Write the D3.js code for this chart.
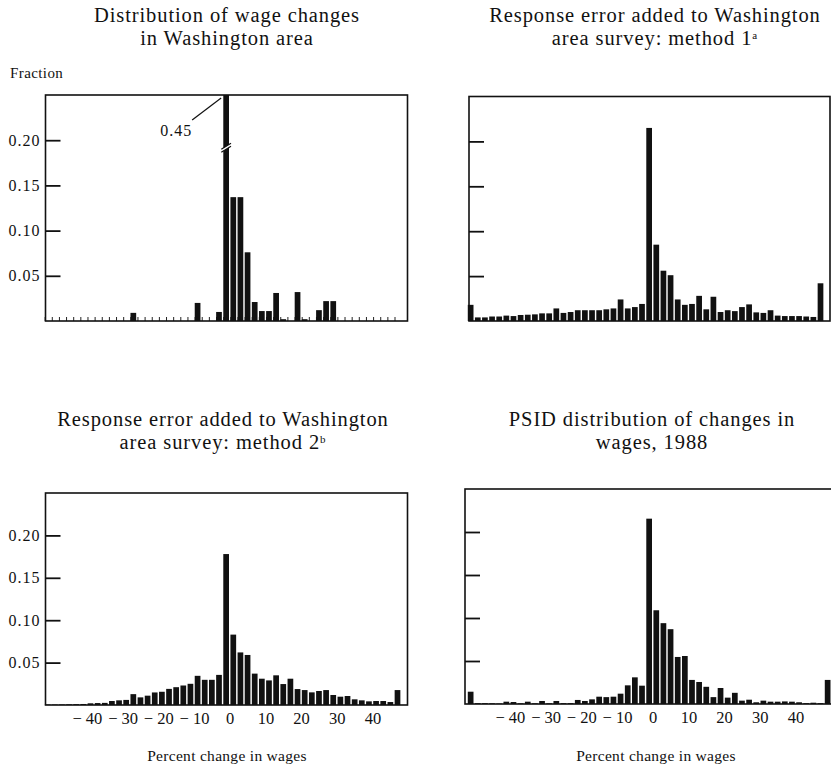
<!DOCTYPE html>
<html>
<head>
<meta charset="utf-8">
<script src="https://cdn.jsdelivr.net/npm/d3@7"></script>
<style>
  html, body { margin: 0; padding: 0; background: #fff; }
  svg { display: block; }
  text { font-family: "Liberation Serif", "DejaVu Serif", serif; fill: #111; }
</style>
</head>
<body>
<svg id="chart" width="831" height="769"></svg>
<script>
// ---- data ----
// bin centres (percent change in wages, 2-point bins)
const binCenters = [-51,-49,-47,-45,-43,-41,-39,-37,-35,-33,-31,-29,-27,-25,-23,-21,-19,-17,-15,-13,
  -11,-9,-7,-5,-3,-1,1,3,5,7,9,11,13,15,17,19,21,23,25,27,29,31,33,35,37,39,41,43,45,47,49];

const washington = [0,0,0,0,0,0,0,0,0,0,0,0,0.009,0,0,0,0,0,0,0,
  0,0.020,0,0,0.010,0.45,0.137,0.137,0.076,0.021,0.011,0.011,0.031,0.002,0,0.032,0.002,0,0.012,0.022,
  0.022,0,0,0,0,0,0,0,0,0];

const method1 = [0.018,0.004,0.004,0.005,0.005,0.006,0.0055,0.0067,0.007,0.0074,
  0.0085,0.0085,0.014,0.009,0.010,0.012,0.012,0.012,0.012,0.013,
  0.014,0.024,0.014,0.0155,0.019,0.215,0.085,0.056,0.051,0.024,
  0.018,0.019,0.028,0.013,0.027,0.010,0.012,0.011,0.0155,0.0185,
  0.0096,0.009,0.012,0.006,0.0055,0.0055,0.0055,0.005,0.0045,0.042];

const method2 = [0.0005,0.0005,0.0006,0.0008,0.001,0.0012,0.002,0.0023,0.0025,0.0047,
  0.0055,0.006,0.0128,0.009,0.011,0.0148,0.0156,0.019,0.021,0.023,
  0.025,0.0344,0.0297,0.0297,0.0355,0.178,0.083,0.062,0.059,0.037,
  0.031,0.029,0.035,0.0247,0.031,0.0188,0.0176,0.0149,0.0165,0.0176,
  0.0118,0.0098,0.0106,0.0067,0.0055,0.0043,0.0047,0.0047,0.0035,0.0176];

const psid = [0.0143,0.001,0.001,0.0008,0.0005,0.0027,0.0023,0.0008,0.0027,0.0008,
  0.0035,0.0008,0.0035,0.001,0.001,0.0047,0.0035,0.0054,0.0085,0.008,
  0.0085,0.012,0.0217,0.031,0.0213,0.2155,0.109,0.094,0.087,0.0547,
  0.0558,0.028,0.0256,0.020,0.008,0.0186,0.0074,0.013,0.0039,0.005,
  0.002,0.0039,0.0027,0.0027,0.003,0.0027,0.002,0.001,0.0015,0.001,0.028];

const yTicks = [0.05, 0.10, 0.15, 0.20];
const xTicks = [-40, -30, -20, -10, 0, 10, 20, 30, 40];

const titles = [
  ["Distribution of wage changes", "in Washington area"],
  ["Response error added to Washington", "area survey: method 1", "a"],
  ["Response error added to Washington", "area survey: method 2", "b"],
  ["PSID distribution of changes in", "wages, 1988"]
];
const yAxisTitle = "Fraction";
const xAxisTitle = "Percent change in wages";
const peakLabel = "0.45";

// ---- layout ----
const panels = [
  { data: washington, title: titles[0], sx: 45.5, fx: 45.5, fr: 407.5, top: 95,  bottom: 321, tx: 227, ty: 22,  yLabels: true,  xLabels: false, minor: true, broken: true },
  { data: method1,    title: titles[1], sx: 468.5, fx: 469, fr: 830,  top: 96.5, bottom: 321, tx: 655, ty: 22,  yLabels: false, xLabels: false },
  { data: method2,    title: titles[2], sx: 45.5, fx: 45.5, fr: 407.5, top: 493, bottom: 705, tx: 223, ty: 426, yLabels: true,  xLabels: true },
  { data: psid,       title: titles[3], sx: 468.5, fx: 465, fr: 842,  top: 489, bottom: 704, tx: 652, ty: 426, yLabels: false, xLabels: true }
];
const pxPerUnit = 3.57;
const xMin = -51.6, xMax = 49.8;
const barUnits = 1.6;

const svg = d3.select("#chart");

panels.forEach((p, pi) => {
  const g = svg.append("g");
  const x = d3.scaleLinear().domain([xMin, xMax]).range([p.sx, p.sx + (xMax - xMin) * pxPerUnit]);
  const y = d3.scaleLinear().domain([0, 0.25]).range([p.bottom, p.top]).clamp(true);
  const bw = x(barUnits) - x(0);

  // title
  const t = g.append("text").attr("x", p.tx).attr("y", p.ty)
    .attr("text-anchor", "middle").style("font-size", "20.5px").style("letter-spacing", "0.9px");
  t.append("tspan").attr("x", p.tx).text(p.title[0]);
  t.append("tspan").attr("x", p.tx).attr("dy", 23).text(p.title[1]);
  if (p.title[2]) {
    t.append("tspan").attr("dy", -6).style("font-size", "11px").text(p.title[2]);
  }

  // minor ticks along bottom (panel 1)
  if (p.minor) {
    g.append("g").selectAll("line").data(binCenters.slice(0, p.data.length)).join("line")
      .attr("x1", d => x(d) - 2.5).attr("x2", d => x(d) - 2.5)
      .attr("y1", p.bottom).attr("y2", p.bottom - 4)
      .attr("stroke", "#222").attr("stroke-width", 1);
  }

  // bars
  g.append("g").selectAll("rect").data(p.data).join("rect")
    .attr("x", (d, i) => x(binCenters[i]) - bw / 2)
    .attr("width", bw)
    .attr("y", d => y(d))
    .attr("height", d => p.bottom - y(d))
    .attr("fill", "#111");

  // y axis (ticks pointing inward)
  const yAxis = d3.axisLeft(y).tickValues(yTicks).tickSize(-15).tickPadding(5)
    .tickFormat(p.yLabels ? d3.format(".2f") : () => "");
  const ya = g.append("g").attr("transform", `translate(${p.fx},0)`).call(yAxis);
  ya.select(".domain").remove();
  ya.selectAll(".tick line").attr("stroke", "#111").attr("stroke-width", 1.8);
  ya.selectAll(".tick text").style("font-size", "16px").style("letter-spacing", "1px")
    .style("font-family", '"Liberation Serif", serif').attr("fill", "#111");

  // x axis labels
  if (p.xLabels) {
    const xAxis = d3.axisBottom(x).tickValues(xTicks).tickSize(0).tickPadding(7.5)
      .tickFormat(d => d < 0 ? "\u2212 " + Math.abs(d) : String(d));
    const xa = g.append("g").attr("transform", `translate(0,${p.bottom})`).call(xAxis);
    xa.select(".domain").remove();
    xa.selectAll(".tick text").style("font-size", "16.5px")
      .style("font-family", '"Liberation Serif", serif').attr("fill", "#111");
    g.append("text").attr("x", p.tx + 4).attr("y", 761).attr("text-anchor", "middle")
      .style("font-size", "15.5px").style("letter-spacing", "0.3px").text(xAxisTitle);
  }

  // frame
  g.append("rect").attr("x", p.fx).attr("y", p.top)
    .attr("width", p.fr - p.fx).attr("height", p.bottom - p.top)
    .attr("fill", "none").attr("stroke", "#111").attr("stroke-width", 1.6);

  // broken peak bar with label
  if (p.broken) {
    const iPeak = p.data.indexOf(d3.max(p.data));
    const cx = x(binCenters[iPeak]);
    const yb = y(0.19);
    const hw = bw / 2 + 2;
    g.append("polygon")
      .attr("points", [[cx - hw, yb + 3], [cx + hw, yb - 3], [cx + hw, yb - 6], [cx - hw, yb]].map(d => d.join(",")).join(" "))
      .attr("fill", "#fff");
    g.append("line").attr("x1", cx - hw).attr("y1", yb + 3).attr("x2", cx + hw).attr("y2", yb - 3)
      .attr("stroke", "#111").attr("stroke-width", 1.2);
    g.append("line").attr("x1", cx - hw).attr("y1", yb).attr("x2", cx + hw).attr("y2", yb - 6)
      .attr("stroke", "#111").attr("stroke-width", 1.2);
    g.append("line").attr("x1", cx - 34).attr("y1", p.top + 25).attr("x2", cx - 5).attr("y2", p.top + 3)
      .attr("stroke", "#111").attr("stroke-width", 1.2);
    g.append("text").attr("x", cx - 34).attr("y", p.top + 41).attr("text-anchor", "end")
      .style("font-size", "16px").style("letter-spacing", "1px").text(peakLabel);
  }

  if (pi === 0) {
    g.append("text").attr("x", 10).attr("y", 78).style("font-size", "15px")
      .style("letter-spacing", "0.4px").text(yAxisTitle);
  }
});
</script>
</body>
</html>
